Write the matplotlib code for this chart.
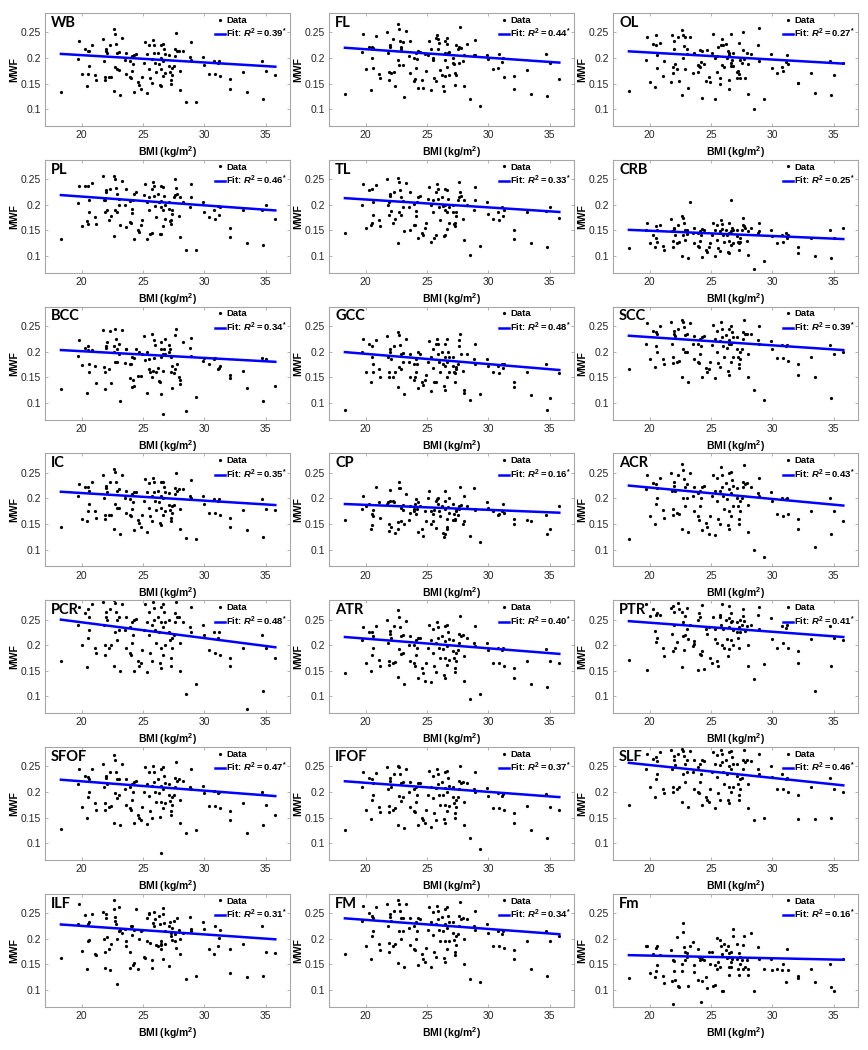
import matplotlib
matplotlib.use('Agg')
import matplotlib.pyplot as plt
import numpy as np

plt.rcParams['font.family'] = ['Liberation Sans', 'DejaVu Sans']
plt.rcParams['mathtext.fontset'] = 'custom'
plt.rcParams['mathtext.it'] = 'Liberation Sans:italic:bold'
plt.rcParams['mathtext.rm'] = 'Liberation Sans:bold'
plt.rcParams['mathtext.bf'] = 'Liberation Sans:bold'

# BMI (kg/m2) of each subject, same subjects in every panel
bmi = [18.3, 19.7, 19.8, 20.0, 20.3, 20.4, 20.5, 20.5, 20.6, 20.6,
       20.8, 21.1, 21.2, 21.7, 21.8, 21.9, 21.9, 22.0, 22.0, 22.1,
       22.2, 22.3, 22.4, 22.6, 22.6, 22.7, 22.7, 22.8, 22.9, 22.9,
       23.0, 23.0, 23.1, 23.3, 23.5, 23.6, 23.6, 23.9, 23.9, 24.0,
       24.1, 24.1, 24.2, 24.3, 24.3, 24.4, 24.6, 24.7, 24.8, 24.9,
       25.1, 25.2, 25.3, 25.3, 25.5, 25.5, 25.6, 25.7, 25.7, 25.8,
       25.9, 25.9, 26.0, 26.1, 26.2, 26.3, 26.4, 26.5, 26.5, 26.5,
       26.5, 26.6, 26.6, 26.6, 26.7, 26.8, 26.8, 27.1, 27.1, 27.2,
       27.3, 27.3, 27.4, 27.4, 27.5, 27.6, 27.6, 27.7, 27.8, 27.9,
       28.0, 28.0, 28.3, 28.5, 28.8, 28.9, 28.9, 29.3, 29.9, 30.0,
       30.4, 30.8, 30.9, 31.1, 31.2, 31.3, 32.1, 32.1, 33.2, 33.5,
       34.7, 34.8, 35.0, 35.8]

# MWF values x1000, one list per region (same subject order as bmi)
wb = [133,198,234,169,218,145,169,214,214,185, 226,167,156,238,194,163,157,218,214,210,
      162,226,162,256,135,247,183,228,210,178, 212,176,127,240,196,209,168,194,163,160,
      203,175,189,206,134,208,153,147,140,162, 191,232,132,208,225,179,160,198,152,235,
      226,209,190,173,210,188,148,145,226,200, 178,228,195,164,217,208,171,206,184,173,
      150,157,181,167,184,217,203,248,213,214, 175,137,214,113,202,232,196,113,201,187,
      169,194,169,191,194,164,158,140,172,133, 194,120,175,166]
fl = [130,211,247,178,222,137,200,221,220,180, 243,169,160,250,210,173,156,225,222,170,
      237,173,146,266,197,256,187,233,222,217, 232,187,124,252,204,233,170,200,155,158,
      210,180,198,213,142,212,156,141,208,175, 205,233,137,218,200,196,160,155,240,245,
      238,218,230,177,167,145,135,233,210,196, 165,240,182,228,210,166,212,200,190,188,
      147,170,166,225,218,190,222,260,220,195, 145,205,228,119,205,235,205,107,205,198,
      178,180,208,193,200,162,165,140,177,130, 208,125,190,158]
ol = [135,197,241,153,228,143,244,225,205,180, 229,165,195,153,244,183,170,234,218,188,
      178,242,155,255,128,245,200,224,242,178, 218,207,142,242,170,208,210,186,172,185,
      215,183,192,214,122,188,155,216,163,153, 210,247,120,200,204,173,222,150,160,225,
      237,186,226,182,228,200,213,157,205,210, 140,246,185,190,196,210,185,172,160,175,
      230,168,196,160,190,215,250,198,160,210, 129,188,207,100,225,258,195,119,208,180,
      170,182,175,193,205,188,152,152,171,132, 194,127,166,190]
pl = [133,204,237,159,236,169,163,236,210,186, 242,176,163,256,210,185,210,229,225,190,
      170,230,178,256,139,250,190,233,222,185, 212,200,160,247,200,230,157,208,166,165,
      192,183,210,222,133,225,150,146,160,170, 220,241,134,205,215,190,142,230,145,245,
      237,218,198,176,221,205,142,236,207,195, 143,235,190,158,218,200,172,205,192,168,
      163,170,190,182,215,220,250,232,222,178, 137,215,205,111,195,240,215,111,206,186,
      177,190,172,198,180,195,155,137,190,126, 190,121,200,173]
tl = [145,200,240,155,228,160,165,230,205,180, 238,170,158,250,200,180,205,222,218,188,
      165,225,172,252,125,245,185,228,215,180, 208,195,148,243,195,225,150,202,160,160,
      188,178,205,215,135,218,145,140,155,165, 212,235,128,200,210,185,135,225,140,240,
      230,212,195,170,215,198,138,230,200,190, 140,228,185,152,212,195,165,200,185,162,
      158,165,185,178,210,215,245,225,218,172, 132,210,200,101,190,235,210,120,205,182,
      172,185,170,195,178,190,150,133,185,125, 188,118,195,175]
crb = [115,150,165,125,140,118,135,158,150,128, 160,120,112,172,148,130,118,155,152,140,
       125,160,128,178,100,175,140,165,150,132, 150,142,95,205,145,155,125,145,120,118,
       148,130,140,152,98,150,112,108,118,125, 140,165,100,150,160,132,115,148,110,170,
       162,152,140,128,150,140,108,165,145,130, 105,210,148,122,155,150,125,150,138,128,
       112,125,135,128,150,160,175,158,155,130, 102,148,155,75,145,165,148,90,150,138,
       125,140,128,145,135,140,118,105,135,100, 150,95,135,155]
bcc = [127,191,223,173,208,119,210,203,161,176, 203,171,138,243,170,160,127,210,208,219,
       166,240,138,210,200,245,180,224,205,180, 214,196,103,243,178,206,206,149,176,176,
       190,130,144,188,133,205,152,200,152,196, 230,183,120,200,185,165,160,235,150,162,
       222,188,212,160,168,143,140,219,205,190, 117,78,196,162,206,196,224,200,212,205,
       160,190,128,172,158,165,232,244,175,150, 145,136,219,83,207,227,192,111,181,187,
       176,186,188,166,168,172,155,148,163,128, 188,104,186,133]
gcc = [85,200,225,160,215,140,190,210,175,160, 222,165,150,230,190,160,150,205,200,185,
       150,210,160,238,130,232,170,212,195,165, 198,180,118,225,180,195,150,175,145,150,
       185,160,175,200,128,195,140,135,145,155, 180,220,122,190,205,168,140,215,140,225,
       215,195,180,160,200,175,132,215,190,172, 125,225,180,150,200,190,160,190,172,160,
       140,158,170,165,175,210,222,235,195,162, 120,125,195,105,185,215,175,118,185,172,
       160,172,158,176,168,175,140,130,160,115, 175,85,110,158]
scc = [165,215,255,185,240,170,210,238,235,200, 250,185,175,258,215,190,178,240,235,230,
       180,245,182,262,150,258,205,248,232,200, 235,200,140,255,215,230,185,215,180,178,
       225,195,210,228,150,230,168,160,165,180, 212,252,148,225,240,200,178,220,170,258,
       245,228,210,190,232,208,162,245,222,215, 155,250,215,180,238,228,190,228,205,190,
       168,175,200,185,205,238,225,262,235,235, 195,150,235,125,222,250,215,105,220,205,
       188,212,188,210,212,182,175,155,190,150, 212,110,195,200]
ic = [145,205,228,160,222,155,175,222,215,190, 232,175,162,245,200,168,160,225,220,212,
      168,232,168,258,140,252,190,232,215,182, 218,182,130,245,200,215,172,198,168,165,
      208,180,192,212,138,212,158,152,145,168, 195,238,135,212,230,182,165,205,155,240,
      232,212,195,178,215,192,152,148,232,205, 182,232,200,168,222,212,175,210,188,178,
      155,162,185,172,188,220,208,250,215,218, 180,140,218,122,205,235,200,120,205,190,
      172,198,172,195,198,168,162,145,178,138, 198,125,180,178]
cp = [157,180,205,185,190,140,148,170,165,178, 222,193,162,190,192,150,136,217,195,145,
      195,192,133,140,153,233,220,220,182,155, 188,178,150,208,158,185,172,175,180,190,
      198,170,180,135,192,185,140,127,175,155, 200,214,150,175,155,170,178,195,142,198,
      200,190,175,165,185,133,125,130,214,195, 180,160,145,140,183,200,172,190,158,170,
      158,160,175,180,168,185,180,223,188,150, 155,205,185,127,220,180,178,115,193,182,
      175,168,170,175,190,172,160,150,158,155, 167,130,140,185]
acr = [120,218,245,165,230,150,190,228,220,200, 240,178,162,250,215,180,168,232,225,215,
       172,245,170,268,140,255,200,238,222,185, 228,200,135,250,205,222,175,210,165,158,
       215,185,200,222,138,225,152,145,130,165, 205,245,128,215,240,195,160,215,150,262,
       245,222,205,180,230,198,148,140,250,218, 175,252,210,165,235,225,185,220,200,185,
       150,160,195,175,200,232,222,265,228,230, 188,135,222,100,210,240,205,85,212,195,
       170,200,165,198,200,170,160,140,175,105, 200,130,175,155]
pcr = [170,240,275,200,262,158,215,270,255,230, 280,195,185,285,240,200,180,265,255,250,
       195,270,200,288,160,282,225,265,250,210, 255,230,150,280,230,255,195,235,185,180,
       245,205,220,250,150,252,170,160,165,190, 230,280,148,245,265,220,185,240,170,285,
       272,250,230,205,255,225,165,155,275,245, 195,280,235,180,265,245,200,250,225,210,
       160,175,215,195,220,262,245,285,255,255, 205,150,245,105,235,275,225,125,240,220,
       190,225,185,215,225,180,175,160,195,75, 220,110,195,175]
atr = [145,210,235,165,225,150,180,225,218,195, 238,172,160,250,205,170,162,228,222,215,
       165,238,168,268,138,255,192,235,218,182, 220,185,125,248,200,218,170,200,165,160,
       210,180,195,215,135,215,155,145,130,165, 195,240,128,210,232,185,160,205,148,245,
       235,215,195,175,218,192,142,135,238,208, 175,240,198,162,225,212,172,210,188,175,
       148,155,185,170,190,222,205,258,218,220, 178,130,215,95,205,238,198,105,205,190,
       165,195,165,190,195,160,155,135,170,125, 192,118,170,165]
ptr = [171,281,152,258,270,228,260,207,215,262, 260,195,178,272,222,188,277,265,240,195,
       207,283,270,158,265,245,218,190,258,220, 272,232,212,240,198,203,208,152,250,262,
       255,183,180,188,278,153,232,222,235,175, 165,256,232,212,205,170,160,255,260,240,
       280,200,232,195,250,213,178,192,277,235, 253,210,262,245,248,230,200,245,225,215,
       235,195,225,250,240,270,258,248,228,238, 160,200,240,134,260,275,232,163,254,213,
       195,237,205,233,240,195,188,165,212,111, 238,160,215,210]
sfof = [128,215,245,170,232,150,190,230,225,200, 245,178,165,255,210,178,165,232,228,215,
        170,240,172,272,140,262,198,240,225,188, 225,195,135,255,205,225,175,210,168,165,
        215,185,200,220,140,222,155,150,145,170, 200,248,138,215,240,192,162,212,150,250,
        240,220,200,180,225,198,152,80,245,212, 180,248,205,168,232,218,178,215,195,182,
        155,162,190,175,195,228,210,258,222,225, 185,140,222,120,210,245,205,125,212,198,
        172,202,172,198,200,168,162,145,178,120, 200,135,175,155]
ifof = [125,210,240,165,228,148,185,225,218,195, 238,170,160,248,205,172,160,228,222,210,
        165,235,168,250,135,248,192,235,218,182, 220,190,130,245,200,220,170,205,162,160,
        210,180,195,218,135,218,150,145,140,165, 195,242,132,210,232,188,158,208,145,245,
        235,215,195,175,220,195,148,140,240,208, 175,242,200,162,228,212,172,210,190,178,
        150,158,185,170,190,222,205,250,218,220, 180,135,218,110,205,240,200,88,208,192,
        168,198,168,192,196,165,158,140,172,125, 196,110,170,165]
slf = [175,245,275,210,265,190,225,268,260,235, 278,205,198,282,245,210,200,270,262,252,
       205,275,210,285,180,280,235,270,255,220, 262,240,170,280,240,262,205,248,200,198,
       255,220,235,262,175,260,190,185,180,205, 240,278,168,255,272,230,198,252,185,282,
       275,258,240,215,262,235,185,178,278,250, 210,280,245,200,268,255,210,255,232,215,
       185,195,225,205,228,262,245,282,258,262, 215,168,260,145,245,275,235,150,250,230,
       205,235,205,225,228,200,195,148,210,148, 228,150,205,200]
ilf = [162,228,268,176,247,140,196,228,232,198, 248,170,168,253,200,175,142,248,240,203,
       180,138,190,275,258,242,235,228,200,112, 262,215,218,212,220,195,185,175,142,225,
       225,208,148,152,218,258,140,200,215,218, 165,162,240,195,248,250,192,158,143,230,
       225,253,238,188,185,245,228,195,190,188, 180,160,248,260,230,215,190,225,147,233,
       205,212,198,222,235,210,195,182,240,218, 200,170,212,122,243,220,215,128,232,220,
       180,170,225,185,202,218,133,180,190,125, 225,128,175,172]
fm_major = [170,235,265,185,250,160,205,245,240,215, 262,190,178,268,225,192,175,248,242,235,
            185,255,190,275,152,268,215,255,240,200, 240,215,145,268,222,240,188,225,180,178,
            232,200,215,240,148,238,170,160,155,182, 218,262,145,232,252,208,175,228,165,265,
            255,238,218,195,242,215,162,155,258,228, 195,262,222,180,245,232,195,232,212,198,
            168,175,205,188,210,245,225,272,238,240, 200,150,238,122,225,255,218,115,228,212,
            185,215,185,210,215,182,178,160,195,140, 215,128,195,205]
fm_minor = [123,186,186,133,170,125,182,137,185,148, 168,127,113,178,117,72,159,157,137,120,
            203,108,106,150,137,230,214,183,175,158, 165,173,107,185,193,148,135,120,180,165,
            158,165,76,160,118,158,125,103,175,150, 175,107,148,110,140,202,155,145,198,185,
            170,98,97,190,178,162,185,145,130,172, 165,155,145,175,160,220,205,190,160,140,
            130,172,165,150,158,140,188,205,145,158, 140,130,212,98,183,160,163,140,160,138,
            140,138,150,115,180,138,123,128,140,116, 151,106,97,160]

regions = ['WB', 'FL', 'OL', 'PL', 'TL', 'CRB', 'BCC', 'GCC', 'SCC', 'IC', 'CP', 'ACR',
           'PCR', 'ATR', 'PTR', 'SFOF', 'IFOF', 'SLF', 'ILF', 'FM', 'Fm']
mwf = [wb, fl, ol, pl, tl, crb, bcc, gcc, scc, ic, cp, acr,
       pcr, atr, ptr, sfof, ifof, slf, ilf, fm_major, fm_minor]
r2 = ['0.39', '0.44', '0.27', '0.46', '0.33', '0.25', '0.34', '0.48', '0.39', '0.35', '0.16', '0.43',
      '0.48', '0.40', '0.41', '0.47', '0.37', '0.46', '0.31', '0.34', '0.16']
# fitted MWF at the lowest and highest BMI
fit_lo = [.208, .220, .213, .219, .213, .151, .203, .199, .231, .213, .189, .225,
          .250, .216, .247, .224, .221, .257, .228, .240, .168]
fit_hi = [.183, .191, .189, .189, .186, .133, .180, .164, .203, .187, .172, .186,
          .196, .183, .216, .192, .190, .213, .199, .209, .159]

xticks = [20, 25, 30, 35]
yticks = [0.1, 0.15, 0.2, 0.25]
ytick_labels = ['0.1', '0.15', '0.2', '0.25']

fig = plt.figure(figsize=(8.68, 10.5), dpi=100)
W, H = 868, 1050
col_left = [45, 329, 613]

x = np.array(bmi)
for i, name in enumerate(regions):
    r, c = divmod(i, 3)
    top = 13 + 146.8 * r
    ax = fig.add_axes([col_left[c] / W, 1 - (top + 113) / H, 245 / W, 113 / H])
    y = np.array(mwf[i]) / 1000
    ax.plot(x, y, 'o', color='k', ms=2.3, mew=0, label='Data')
    ax.plot([x.min(), x.max()], [fit_lo[i], fit_hi[i]], color='#0000ff', lw=1.8,
            label=r'Fit: $\mathit{R^2 = %s}^{*}$' % r2[i])
    ax.set_xlim(17, 37)
    ax.set_ylim(0.067, 0.288)
    ax.set_xticks(xticks)
    ax.set_yticks(yticks)
    ax.set_yticklabels(ytick_labels)
    for sp in ax.spines.values():
        sp.set_color('#a6a6a6')
        sp.set_linewidth(0.8)
    ax.tick_params(direction='in', length=2, width=0.6, color='#a6a6a6', labelsize=7.5,
                   labelcolor='#262626', top=True, right=True, pad=3)
    ax.set_xlabel(r'BMI (kg/m$^2$)', fontsize=7.5, fontweight='bold', labelpad=3)
    ax.set_ylabel('MWF', fontsize=7.5, fontweight='bold', labelpad=1)
    ax.text(0.025, 0.975, name, transform=ax.transAxes, fontfamily='Lato',
            fontweight='bold', fontsize=10.5, va='top', ha='left')
    ax.legend(loc='upper right', frameon=False, prop={'weight': 'bold', 'size': 6.8},
              handlelength=1.0, handletextpad=0.15, labelspacing=0.25,
              borderaxespad=0.1, borderpad=0.2, numpoints=1)

fig.savefig('out.png', dpi=100)
